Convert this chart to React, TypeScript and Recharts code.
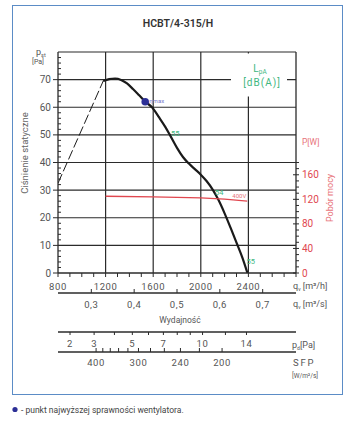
import React from 'react';
import { ComposedChart, Line, XAxis, YAxis, ReferenceLine, ReferenceDot } from 'recharts';

// charakterystyka wentylatora: wydajność [m3/h] -> ciśnienie statyczne [Pa]
const flowCurve = [1180, 1230, 1280, 1330, 1380, 1430, 1480, 1533, 1590, 1650, 1700, 1740, 1800, 1850, 1900, 1950, 2000, 2050, 2100, 2150, 2200, 2250, 2300, 2350, 2392];
const pressureCurve = [69.5, 70.2, 70.4, 69.9, 68.6, 66.6, 64.4, 62.0, 60.0, 56.3, 53.0, 50.0, 45.3, 42.0, 39.6, 37.6, 35.6, 33.2, 30.2, 26.3, 21.6, 16.4, 11.0, 5.5, 0];

// strefa niestabilna (linia przerywana)
const flowStall = [800, 1180];
const pressureStall = [32.5, 69.5];

// pobór mocy [W]
const flowPower = [1200, 1600, 2000, 2200, 2390];
const powerValues = [125, 124, 122.5, 120.5, 117];

// punkt najwyższej sprawności
const etaFlow = 1533;
const etaPressure = 62;

// poziom hałasu LpA
const soundFlow = [1750, 2120, 2385];
const soundPressure = [50.5, 29, 4];
const soundText = ['55', '54', '55'];

// osie
const flowTicks = [800, 900, 1000, 1100, 1200, 1300, 1400, 1500, 1600, 1700, 1800, 1900, 2000, 2100, 2200, 2300, 2400, 2500, 2600, 2700, 2800];
const flowLabels = [800, 1200, 1600, 2000, 2400];
const gridFlow = [1200, 1600, 2000, 2400];
const pressureTicks = [0, 2, 4, 6, 8, 10, 12, 14, 16, 18, 20, 22, 24, 26, 28, 30, 32, 34, 36, 38, 40, 42, 44, 46, 48, 50, 52, 54, 56, 58, 60, 62, 64, 66, 68, 70, 72, 74, 76, 78];
const pressureLabels = [0, 10, 20, 30, 40, 50, 60, 70];
const powerTicks = [0, 10, 20, 30, 40, 50, 60, 70, 80, 90, 100, 110, 120, 130, 140, 150, 160, 170, 180];
const powerLabels = [0, 40, 80, 120, 160];
const qsTicks = [0.3, 0.4, 0.5, 0.6, 0.7];
const pdTicks = [2, 3, 4, 5, 6, 7, 8, 9, 10, 12, 14];
const pdLabels = [2, 3, 5, 7, 10, 14];
const sfpTicks = [400, 380, 360, 340, 320, 300, 280, 260, 240, 220, 200];
const sfpLabels = [400, 300, 240, 200];

const PD_REF_FLOW = 901; // m3/h przy 2 Pa
const SFP_REF_FLOW = 1120; // m3/h przy 400 W/m3/s

const curveData = flowCurve.map((q, i) => ({ q, p: pressureCurve[i] }));
const stallData = flowStall.map((q, i) => ({ q, p: pressureStall[i] }));
const powerData = flowPower.map((q, i) => ({ q, w: powerValues[i] }));

const pdToFlow = (pd: number) => PD_REF_FLOW * Math.sqrt(pd / 2);
const sfpToFlow = (s: number) => SFP_REF_FLOW * Math.pow(400 / s, 0.96);

const FONT = 'Roboto, "DejaVu Sans", sans-serif';
const GRID = '#2b2b2b';
const GRAY = '#555';
const RED = '#e0474f';
const PINK = '#e8737a';
const GREEN = '#3fb77f';
const NAVY = '#2c2f96';

const BottomTick = ({ x, y, label, up, len, dy }: any) => (
  <g>
    <line x1={x} x2={x} y1={y} y2={up ? y - len : y + len} stroke={GRID} strokeWidth={1} />
    {label !== '' && (
      <text x={x} y={y + dy} textAnchor="middle" fill={GRAY} fontSize={9.5} letterSpacing={0.6} fontFamily={FONT}>
        {label}
      </text>
    )}
  </g>
);

const LeftTick = ({ x, y, value }: any) => {
  const major = pressureLabels.includes(value);
  return (
    <g>
      <line x1={major ? x - 5 : x} x2={major ? x : x + 3} y1={y} y2={y} stroke={GRID} strokeWidth={1} />
      {major && (
        <text x={x - 7} y={y} textAnchor="end" dominantBaseline="central" fill={GRAY} fontSize={10} fontFamily={FONT}>
          {value}
        </text>
      )}
    </g>
  );
};

const RightTick = ({ x, y, value }: any) => {
  const major = powerLabels.includes(value);
  return (
    <g>
      <line x1={major ? x - 3 : x} x2={x + 3} y1={y} y2={y} stroke={GRID} strokeWidth={1} />
      {major && (
        <text x={x + 6} y={y} textAnchor="start" dominantBaseline="central" fill={RED} fontSize={10} fontFamily={FONT}>
          {value}
        </text>
      )}
    </g>
  );
};

const axisLineStyle = { stroke: GRID, strokeWidth: 1.5 };

// osie dolne - id w kolejności od wykresu w dół
export default function App() {
  return (
    <div style={{ position: 'absolute', left: 0, top: 0, width: 354, height: 422, background: '#fff', fontFamily: FONT }}>
      <div style={{ position: 'absolute', left: 12, top: 5, width: 329, height: 388, border: '1.5px solid #5b8cc6' }} />
      <div style={{ position: 'absolute', left: 0, top: 0 }}>
        <ComposedChart width={354} height={422} margin={{ top: 52, right: 0, bottom: 40, left: 0 }}>
          <XAxis
            xAxisId="x1"
            dataKey="q"
            type="number"
            domain={[800, 2800]}
            allowDataOverflow
            ticks={flowTicks}
            interval={0}
            height={20}
            tickSize={0}
            tickMargin={0}
            tickLine={false}
            axisLine={{ stroke: GRID, strokeWidth: 1.3 }}
            tick={(p: any) => (
              <BottomTick x={p.x} y={p.y} up={false} len={4} dy={16.5}
                label={flowLabels.includes(p.payload.value) ? String(p.payload.value) : ''} />
            )}
          />
          <XAxis
            xAxisId="x2"
            dataKey="q"
            type="number"
            domain={[800, 2800]}
            allowDataOverflow
            ticks={qsTicks.map((v) => v * 3600)}
            interval={0}
            height={39}
            tickSize={0}
            tickMargin={0}
            tickLine={false}
            axisLine={axisLineStyle}
            tick={(p: any) => (
              <BottomTick x={p.x} y={p.y} up len={4} dy={15}
                label={qsTicks[p.index].toFixed(1).replace('.', ',')} />
            )}
          />
          <XAxis
            xAxisId="x3"
            dataKey="q"
            type="number"
            domain={[800, 2800]}
            allowDataOverflow
            ticks={pdTicks.map(pdToFlow)}
            interval={0}
            height={20}
            tickSize={0}
            tickMargin={0}
            tickLine={false}
            axisLine={axisLineStyle}
            tick={(p: any) => (
              <BottomTick x={p.x} y={p.y} up={false} len={3} dy={15}
                label={pdLabels.includes(pdTicks[p.index]) ? String(pdTicks[p.index]) : ''} />
            )}
          />
          <XAxis
            xAxisId="x4"
            dataKey="q"
            type="number"
            domain={[800, 2800]}
            allowDataOverflow
            ticks={sfpTicks.map(sfpToFlow)}
            interval={0}
            height={30}
            tickSize={0}
            tickMargin={0}
            tickLine={false}
            axisLine={axisLineStyle}
            tick={(p: any) => (
              <BottomTick x={p.x} y={p.y} up len={4} dy={14}
                label={sfpLabels.includes(sfpTicks[p.index]) ? String(sfpTicks[p.index]) : ''} />
            )}
          />
          <YAxis
            yAxisId="ps"
            type="number"
            domain={[0, 80]}
            allowDataOverflow
            ticks={pressureTicks}
            interval={0}
            width={58}
            tickSize={0}
            tickMargin={0}
            tickLine={false}
            axisLine={{ stroke: GRID, strokeWidth: 1.3 }}
            tick={(p: any) => <LeftTick x={p.x} y={p.y} value={p.payload.value} />}
          />
          <YAxis
            yAxisId="pw"
            orientation="right"
            type="number"
            domain={[0, 360]}
            allowDataOverflow
            ticks={powerTicks}
            interval={0}
            width={58}
            tickSize={0}
            tickMargin={0}
            tickLine={false}
            axisLine={false}
            tick={(p: any) => <RightTick x={p.x} y={p.y} value={p.payload.value} />}
          />

          {pressureLabels.slice(1).map((v) => (
            <ReferenceLine key={`h${v}`} xAxisId="x1" yAxisId="ps" y={v} stroke={GRID} strokeWidth={1.2} />
          ))}
          <ReferenceLine xAxisId="x1" yAxisId="ps" y={80} stroke={GRID} strokeWidth={1.2} />
          {gridFlow.map((v) => (
            <ReferenceLine key={`v${v}`} xAxisId="x1" yAxisId="ps" x={v} stroke={GRID} strokeWidth={1.2} />
          ))}
          <ReferenceLine xAxisId="x1" yAxisId="ps" x={2800} stroke={GRID} strokeWidth={1.3} />

          <Line data={stallData} xAxisId="x1" yAxisId="ps" dataKey="p" type="linear" stroke="#1a1a1a"
            strokeWidth={1} strokeDasharray="10 3" dot={false} isAnimationActive={false} />
          <Line data={curveData} xAxisId="x1" yAxisId="ps" dataKey="p" type="monotone" stroke="#1a1a1a"
            strokeWidth={2.2} dot={false} isAnimationActive={false} />
          <Line data={powerData} xAxisId="x1" yAxisId="pw" dataKey="w" type="linear" stroke={RED}
            strokeWidth={1.3} dot={false} isAnimationActive={false} />

          <ReferenceDot xAxisId="x1" yAxisId="ps" x={etaFlow} y={etaPressure} r={3.8} fill={NAVY} stroke="none" />
          <ReferenceDot xAxisId="x1" yAxisId="ps" x={etaFlow} y={etaPressure} r={0}
            shape={(s: any) => (
              <text x={s.cx + 4} y={s.cy - 1.5} dominantBaseline="central" fill="#7777cc" fontSize={6} fontFamily={FONT}>
                ηmax
              </text>
            )} />
          {soundFlow.map((q, i) => (
            <ReferenceDot key={`s${i}`} xAxisId="x1" yAxisId="ps" x={q} y={soundPressure[i]} r={0}
              shape={(s: any) => (
                <text x={s.cx} y={s.cy} dominantBaseline="central" fill={GREEN} fontSize={7.5} fontFamily={FONT}>
                  {soundText[i]}
                </text>
              )} />
          ))}
          <ReferenceDot xAxisId="x1" yAxisId="pw" x={2265} y={126} r={0}
            shape={(s: any) => (
              <text x={s.cx} y={s.cy} dominantBaseline="central" fill={PINK} fontSize={6} fontFamily={FONT}>
                400V
              </text>
            )} />
        </ComposedChart>
      </div>

      <svg width={354} height={422} style={{ position: 'absolute', left: 0, top: 0, pointerEvents: 'none' }} fontFamily={FONT}>
        <text x={178} y={27} textAnchor="middle" fontSize={10.5} fontWeight={600} fill="#333">HCBT/4-315/H</text>

        <text x={36} y={55} fontSize={9} fill={GRAY}>p<tspan fontSize={5.5} dy={2}>st</tspan></text>
        <text x={38} y={64} textAnchor="middle" fontSize={7} fill={GRAY}>[Pa]</text>
        <text transform="translate(28,153) rotate(-90)" textAnchor="middle" fontSize={9.5} fill="#666">Ciśnienie statyczne</text>

        <rect x={231} y={53.5} width={56} height={43} fill="#fff" />
        <text x={260} y={72} textAnchor="middle" fontSize={10} fill={GREEN}>L<tspan fontSize={6.5} dy={2}>pA</tspan></text>
        <text x={262} y={85.5} textAnchor="middle" fontSize={10} letterSpacing={1} fill={GREEN}>[dB(A)]</text>

        <text x={302} y={145} fontSize={8.5} fill={PINK}>P[W]</text>
        <text transform="translate(333,198) rotate(-90)" textAnchor="middle" fontSize={9} fill={PINK}>Pobór mocy</text>

        <text x={293} y={289} fontSize={9} fill={GRAY}>q<tspan fontSize={5} dy={2}>v</tspan><tspan dy={-2}> [m³/h]</tspan></text>
        <text x={293} y={307} fontSize={9} fill={GRAY}>q<tspan fontSize={5} dy={2}>v</tspan><tspan dy={-2}> [m³/s]</tspan></text>
        <text x={180} y={323} textAnchor="middle" fontSize={8.5} fill={GRAY}>Wydajność</text>
        <text x={292} y={348} fontSize={9} fill={GRAY}>p<tspan fontSize={5} dy={2}>d</tspan><tspan dy={-2}>[Pa]</tspan></text>
        <text x={293} y={366} fontSize={9.5} letterSpacing={1.8} fill={GRAY}>SFP</text>
        <text x={292} y={378} fontSize={6.5} fill={GRAY}>[W/m²/s]</text>

        <circle cx={15} cy={409.5} r={2.6} fill={NAVY} />
        <text x={21} y={412.5} fontSize={8.5} fill="#444">- punkt najwyższej sprawności wentylatora.</text>
      </svg>
    </div>
  );
}
